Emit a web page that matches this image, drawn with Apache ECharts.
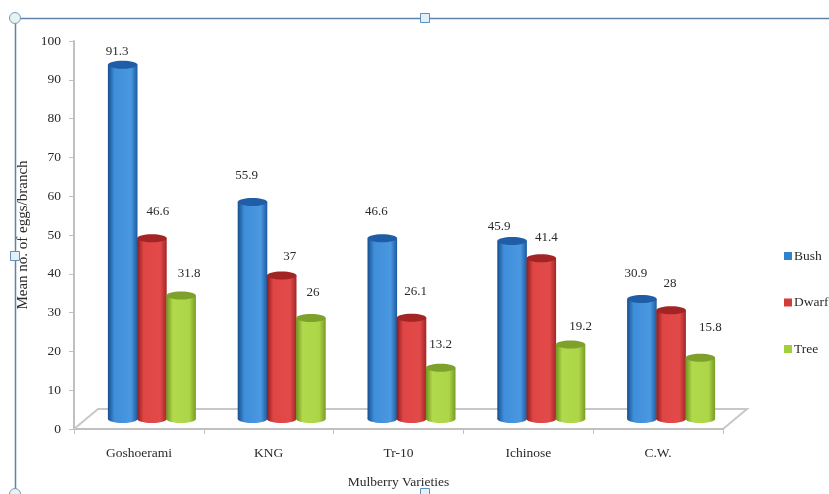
<!DOCTYPE html>
<html>
<head>
<meta charset="utf-8">
<style>html,body{margin:0;padding:0;background:#fff}#chart{width:829px;height:494px}</style>
<script src="https://cdn.jsdelivr.net/npm/echarts@6/dist/echarts.min.js"></script>
</head>
<body>
<div id="chart"></div>
<script>
// Egg counts per mulberry variety and training form
const categories = ['Goshoerami', 'KNG', 'Tr-10', 'Ichinose', 'C.W.'];
const bush = [91.3, 55.9, 46.6, 45.9, 30.9];
const dwarf = [46.6, 37, 26.1, 41.4, 28];
const tree = [31.8, 26, 13.2, 19.2, 15.8];
const yTicks = { min: 0, max: 100, interval: 10 };

// Hand placement of the value labels relative to each cylinder top
const bushLabelLift = [13, 27, 27, 14, 26];
const dwarfLabelLift = [27, 19, 26, 21, 27];
const treeLabelLift = [22, 26, 23, 18, 30];
const bushLabelNudge = [-5.5, -6, -6, -13, -6];
const dwarfLabelNudge = [6, 8, 4, 5, -1];
const treeLabelNudge = [8, 2, 0, 10, 10];

// Pseudo-3D layout of the cylinders and the floor
const DEPTH_X = 24, DEPTH_Y = 20;
const LIFT_Y = 10, GROUP_DX = 13, BAR_STEP = 29.2, RX = 14.8, RY = 4;
const FONT = '"Liberation Serif", serif';
const TEXT = '#2a2a2a';

function cylinderGradient(stops) {
  return {
    type: 'linear', x: 0, y: 0, x2: 1, y2: 0,
    colorStops: stops.map((c, i) => ({ offset: [0, 0.22, 0.78, 1][i], color: c }))
  };
}

function cylinderSeries(name, values, slot, swatch, stops, cap, lifts, nudges) {
  return {
    name, type: 'custom', clip: false, z: 3,
    itemStyle: { color: swatch },
    data: values.map((v, i) => [i, v]),
    encode: { x: 0, y: 1 },
    renderItem(params, api) {
      const i = api.value(0), v = api.value(1);
      const top = api.coord([i, v]);
      const base = api.coord([i, 0]);
      const cx = top[0] + GROUP_DX + slot * BAR_STEP;
      const yTop = top[1] - LIFT_Y, yBase = base[1] - LIFT_Y;
      const fill = cylinderGradient(stops);
      return {
        type: 'group',
        children: [
          { type: 'ellipse', shape: { cx, cy: yBase, rx: RX, ry: RY }, style: { fill } },
          { type: 'rect', shape: { x: cx - RX, y: yTop, width: RX * 2, height: yBase - yTop }, style: { fill } },
          { type: 'ellipse', shape: { cx, cy: yTop, rx: RX, ry: RY }, style: { fill: cap } },
          {
            type: 'text',
            style: {
              text: String(v), x: cx + nudges[i], y: yTop - lifts[i],
              fill: TEXT, font: '13px ' + FONT, textAlign: 'center', textVerticalAlign: 'middle'
            }
          }
        ]
      };
    }
  };
}

// Parallelogram floor drawn behind the cylinders
const floorSeries = {
  name: 'floor', type: 'custom', clip: false, z: 1, silent: true,
  data: [[0, 0]],
  encode: { x: 0, y: 1 },
  renderItem(params, api) {
    const band = api.size([1, 0])[0];
    const first = api.coord([0, 0]);
    const last = api.coord([categories.length - 1, 0]);
    const x0 = first[0] - band / 2, x1 = last[0] + band / 2, y = first[1];
    return {
      type: 'polyline',
      shape: { points: [[x0, y], [x0 + DEPTH_X, y - DEPTH_Y], [x1 + DEPTH_X, y - DEPTH_Y], [x1, y]] },
      style: { fill: 'none', stroke: '#c8c8c8', lineWidth: 2 }
    };
  }
};

// Selection frame and its handles around the chart
const FRAME = '#5f83a8';
const handle = (type, x, y) => type === 'circle'
  ? { type: 'circle', shape: { cx: x, cy: y, r: 5.5 }, style: { fill: '#e6f3f3', stroke: '#7f9bb8', lineWidth: 1 }, z: 10 }
  : { type: 'rect', shape: { x: x - 4.5, y: y - 4.5, width: 9, height: 9 }, style: { fill: '#e4f0f8', stroke: '#5f90bc', lineWidth: 1 }, z: 10 };

const option = {
  animation: false,
  backgroundColor: '#fff',
  textStyle: { fontFamily: FONT },
  grid: { left: 74, right: 106, top: 41, bottom: 65, containLabel: false },
  xAxis: {
    type: 'category',
    data: categories,
    name: 'Mulberry Varieties',
    nameLocation: 'middle',
    nameGap: 46,
    nameMoveOverlap: false,
    nameTextStyle: { fontFamily: FONT, fontSize: 13.5, color: TEXT },
    axisLine: { lineStyle: { color: '#c0c0c0', width: 2 } },
    axisTick: { show: true, alignWithLabel: false, length: 5, lineStyle: { color: '#c0c0c0', width: 1 } },
    axisLabel: { fontFamily: FONT, fontSize: 13.5, color: TEXT, margin: 17 }
  },
  yAxis: {
    type: 'value',
    min: yTicks.min, max: yTicks.max, interval: yTicks.interval,
    name: 'Mean no. of eggs/branch',
    nameLocation: 'middle',
    nameGap: 43,
    nameMoveOverlap: false,
    nameTextStyle: { fontFamily: FONT, fontSize: 15, color: TEXT },
    axisLine: { show: true, lineStyle: { color: '#c0c0c0', width: 2 } },
    axisTick: { show: true, length: 5, lineStyle: { color: '#c0c0c0', width: 1 } },
    axisLabel: { fontFamily: FONT, fontSize: 13.5, color: TEXT, margin: 13 },
    splitLine: { show: false }
  },
  legend: {
    data: ['Bush', 'Dwarf', 'Tree'],
    orient: 'vertical',
    left: 779, top: 244,
    itemWidth: 8, itemHeight: 8, itemGap: 32.5,
    icon: 'rect',
    textStyle: { fontFamily: FONT, fontSize: 13.5, color: TEXT, padding: [0, 0, 0, -3] }
  },
  graphic: [
    { type: 'line', shape: { x1: 15, y1: 18.5, x2: 829, y2: 18.5 }, style: { stroke: FRAME, lineWidth: 1.5 }, z: 9 },
    { type: 'line', shape: { x1: 15.5, y1: 18, x2: 15.5, y2: 494 }, style: { stroke: FRAME, lineWidth: 1.5 }, z: 9 },
    handle('circle', 15, 18),
    handle('rect', 425, 18),
    handle('rect', 15, 256),
    handle('circle', 15, 494),
    handle('rect', 425, 493)
  ],
  series: [
    floorSeries,
    cylinderSeries('Bush', bush, -1, '#3182cc', ['#174f8f', '#3f8ed9', '#4a98e0', '#1c5aa0'], '#1f5ea6', bushLabelLift, bushLabelNudge),
    cylinderSeries('Dwarf', dwarf, 0, '#d43b3b', ['#8e1d1d', '#e04545', '#e24a4a', '#a32626'], '#a32424', dwarfLabelLift, dwarfLabelNudge),
    cylinderSeries('Tree', tree, 1, '#a4cf3d', ['#70931d', '#b0d94c', '#aed548', '#789c25'], '#7da12a', treeLabelLift, treeLabelNudge)
  ]
};

const chart = echarts.init(document.getElementById('chart'), null, { renderer: 'canvas' });
chart.setOption(option);
</script>
</body>
</html>
